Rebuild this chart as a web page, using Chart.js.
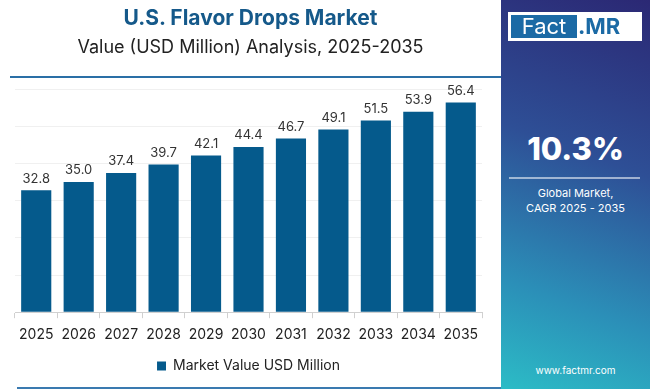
<!DOCTYPE html>
<html lang="en">
<head>
<meta charset="UTF-8">
<title>U.S. Flavor Drops Market</title>
<script src="https://cdn.jsdelivr.net/npm/chart.js"></script>
<style>
   body { margin: 0; width: 650px; height: 389px; overflow: hidden; background: #fff; font-family: "Inter", "Open Sans", sans-serif; }
   .left { position: absolute; left: 0; top: 0; width: 501px; height: 389px; }
   .titulo { position: absolute; left: 0; width: 501px; text-align: center; top: 5px; font-size: 21px; font-weight: 700; color: #15598a; }
   .sub { position: absolute; left: 0; width: 501px; text-align: center; top: 36px; font-size: 18px; color: #222; }
   .linha { position: absolute; left: 10px; width: 491px; top: 76px; height: 2px; background: #2a6fa6; }
   .linhaBaixo { position: absolute; left: 17px; width: 484px; top: 387px; height: 2px; background: #3a7ab0; }
   #grafico { position: absolute; left: 0; top: 0; }
   .painel { position: absolute; left: 501px; top: 0; width: 149px; height: 389px;
      background: linear-gradient(200deg, #2b2874 0%, #2e4f96 40%, #2b8fb8 75%, #2cbcc6 100%); color: #fff; text-align: center; }
   .logo { position: absolute; left: 7px; top: 12px; width: 134px; height: 29px; background: #fff; }
   .logo .fact { position: absolute; left: 3px; top: 3px; width: 66px; height: 23px; background: #1b6aa5; color: #fff; font-size: 22px; line-height: 23px; }
   .logo .mr { position: absolute; left: 70px; top: 3px; font-size: 22px; line-height: 23px; font-weight: 700; color: #1b6aa5; }
   .cagr { position: absolute; left: 0; width: 149px; top: 130px; font-size: 31px; font-weight: 800; }
   .sep { position: absolute; left: 8px; width: 131px; top: 177px; height: 2px; background: rgba(255,255,255,0.55); }
   .desc { position: absolute; left: 0; width: 149px; top: 186px; font-size: 11px; line-height: 15px; }
   .site { position: absolute; left: 0; width: 149px; top: 364px; font-size: 10px; }
</style>
</head>
<body>
   <div class="left">
      <canvas id="grafico" width="501" height="389"></canvas>
      <div class="titulo">U.S. Flavor Drops Market</div>
      <div class="sub">Value (USD Million) Analysis, 2025-2035</div>
      <div class="linha"></div>
      <div class="linhaBaixo"></div>
   </div>
   <div class="painel">
      <div class="logo"><div class="fact">Fact</div><div class="mr">.MR</div></div>
      <div class="cagr">10.3%</div>
      <div class="sep"></div>
      <div class="desc">Global Market,<br>CAGR 2025 - 2035</div>
      <div class="site">www.factmr.com</div>
   </div>
<script>
   const anos = ["2025", "2026", "2027", "2028", "2029", "2030", "2031", "2032", "2033", "2034", "2035"];
   const valores = [32.8, 35.0, 37.4, 39.7, 42.1, 44.4, 46.7, 49.1, 51.5, 53.9, 56.4];
   const serie = "Market Value USD Million";

   // escreve o valor em cima de cada barra
   const rotulos = {
      id: "rotulos",
      afterDatasetsDraw(chart) {
         const ctx = chart.ctx;
         const meta = chart.getDatasetMeta(0);
         ctx.save();
         ctx.font = "13px Inter, sans-serif";
         ctx.fillStyle = "#333";
         ctx.textAlign = "center";
         ctx.textBaseline = "bottom";
         meta.data.forEach(function (barra, i) {
            ctx.fillText(valores[i].toFixed(1), barra.x, barra.y - 5);
         });
         ctx.restore();
      }
   };

   new Chart(document.getElementById("grafico"), {
      type: "bar",
      data: {
         labels: anos,
         datasets: [{
            label: serie,
            data: valores,
            backgroundColor: "#055a8c",
            barPercentage: 0.71,
            categoryPercentage: 1
         }]
      },
      options: {
         responsive: false,
         animation: false,
         layout: { padding: { left: 15, right: 19, top: 89, bottom: 6 } },
         scales: {
            x: {
               grid: { offset: true, drawOnChartArea: false, color: "#d0d0d0", tickLength: 6 },
               border: { color: "#d0d0d0" },
               ticks: { color: "#222", font: { size: 14, family: "Inter" }, padding: 8 }
            },
            y: {
               min: 0,
               max: 60,
               ticks: { display: false, stepSize: 10 },
               grid: { color: "#f0f0f0", drawTicks: false },
               border: { display: false }
            }
         },
         plugins: {
            legend: {
               position: "bottom",
               labels: { color: "#222", font: { size: 14, family: "Inter" }, boxWidth: 9, boxHeight: 9, padding: 8 }
            },
            tooltip: { enabled: false }
         }
      },
      plugins: [rotulos]
   });
</script>
</body>
</html>
